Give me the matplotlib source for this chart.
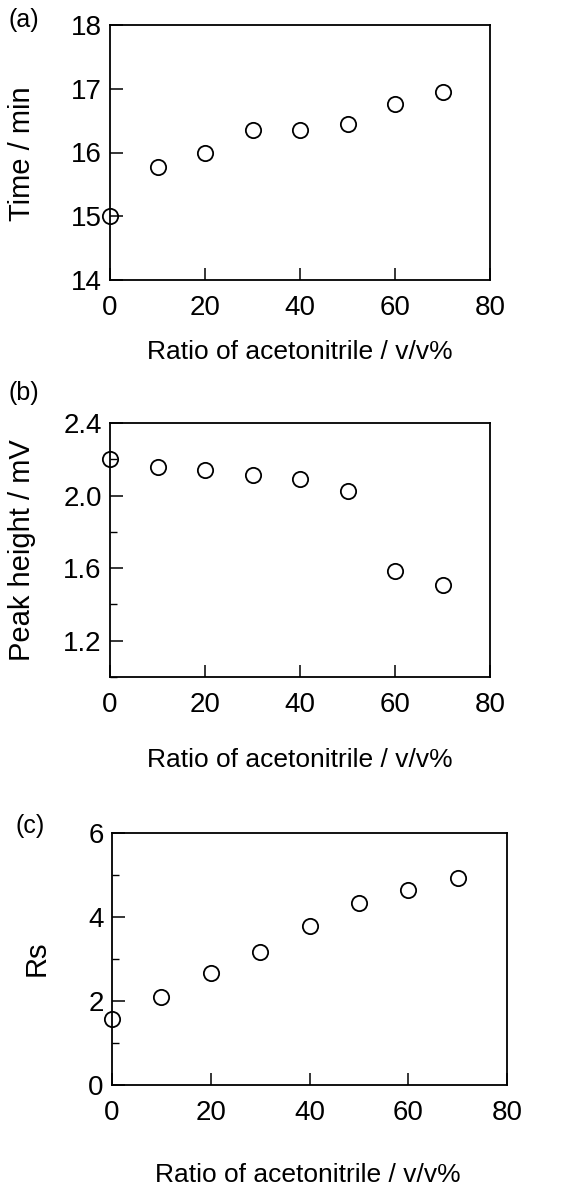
import matplotlib
matplotlib.use("Agg")
import matplotlib.pyplot as plt
from matplotlib.ticker import MultipleLocator

plt.rcParams['font.family'] = ['Liberation Sans', 'DejaVu Sans']

ratio = [0, 10, 20, 30, 40, 50, 60, 70]
time_min = [15.0, 15.78, 16.0, 16.36, 16.35, 16.45, 16.76, 16.95]
peak_height = [2.20, 2.16, 2.14, 2.115, 2.09, 2.026, 1.587, 1.508]
rs = [1.58, 2.09, 2.67, 3.17, 3.79, 4.34, 4.65, 4.93]

xlabel = "Ratio of acetonitrile / v/v%"
W, H = 586, 1190
fig = plt.figure(figsize=(W / 100, H / 100), dpi=100)

def px_axes(l, t, r, b):
    return fig.add_axes([l / W, 1 - b / H, (r - l) / W, (b - t) / H])

def ftext(x, y, s, **kw):
    fig.text(x / W, 1 - y / H, s, ha='center', va='center', **kw)

panels = [
    dict(box=(110, 25, 490, 280), y=time_min, ylim=(14, 18), major=1, minor=None,
         fmt='{:.0f}', ylabel='Time / min', ylab_xy=(22, 154), tag='(a)', tag_xy=(24, 20),
         xlab_x=300, xlab_y=352),
    dict(box=(110, 423, 490, 677), y=peak_height, ylim=(1.0, 2.4), major=0.4, minor=0.2,
         fmt='{:.1f}', ylabel='Peak height / mV', ylab_xy=(22, 550), tag='(b)', tag_xy=(24, 393),
         xlab_x=300, xlab_y=760),
    dict(box=(112, 833, 507, 1085), y=rs, ylim=(0, 6), major=2, minor=1,
         fmt='{:.0f}', ylabel='Rs', ylab_xy=(37, 958), tag='(c)', tag_xy=(30, 826),
         xlab_x=308, xlab_y=1175),
]

for p in panels:
    ax = px_axes(*p['box'])
    ax.plot(ratio, p['y'], linestyle='none', marker='o', markersize=11,
            markerfacecolor='none', markeredgecolor='black', markeredgewidth=1.3,
            clip_on=False, zorder=3)
    ax.set_xlim(0, 80)
    ax.set_ylim(*p['ylim'])
    ax.xaxis.set_major_locator(MultipleLocator(20))
    ax.yaxis.set_major_locator(MultipleLocator(p['major']))
    if p['minor']:
        ax.yaxis.set_minor_locator(MultipleLocator(p['minor']))
    ax.set_yticklabels([p['fmt'].format(v) for v in ax.get_yticks()])
    ax.set_ylim(*p['ylim'])
    ax.tick_params(axis='both', which='major', direction='in', length=9, width=1.1,
                   labelsize=20, top=False, right=False)
    ax.tick_params(axis='x', which='major', pad=11)
    ax.tick_params(axis='y', which='major', pad=6)
    ax.tick_params(axis='y', which='minor', direction='in', length=5, width=1.0, right=False)
    for s in ax.spines.values():
        s.set_linewidth(1.3)
    ftext(*p['ylab_xy'], p['ylabel'], fontsize=21, rotation=90)
    ftext(*p['tag_xy'], p['tag'], fontsize=18)
    ftext(p['xlab_x'], p['xlab_y'], xlabel, fontsize=19)

fig.savefig('out.png', dpi=100)
